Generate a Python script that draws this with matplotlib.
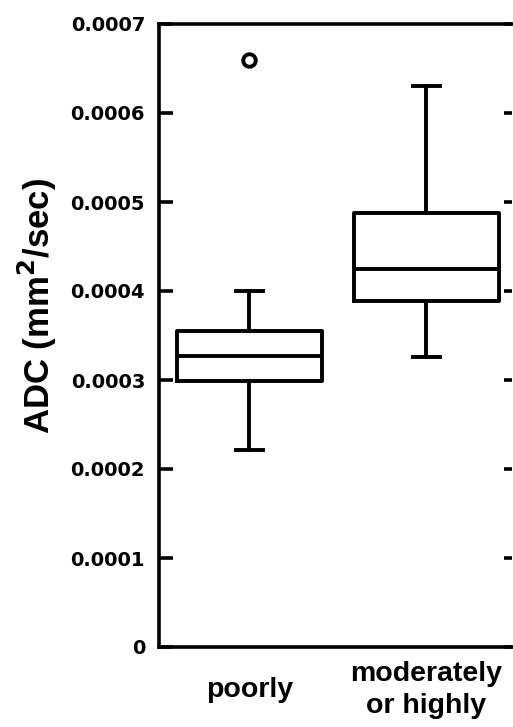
import matplotlib
matplotlib.use('Agg')
import matplotlib.pyplot as plt

# Box statistics (ADC, mm^2/sec)
groups = ['poorly', 'moderately\nor highly']
whisker_low = [2.21e-4, 3.26e-4]
quart1 = [2.99e-4, 3.89e-4]
medians = [3.27e-4, 4.25e-4]
quart3 = [3.55e-4, 4.88e-4]
whisker_high = [4.00e-4, 6.30e-4]
outliers = [[6.6e-4], []]

yticks = [0, 0.0001, 0.0002, 0.0003, 0.0004, 0.0005, 0.0006, 0.0007]
ytick_labels = ['0', '0.0001', '0.0002', '0.0003', '0.0004', '0.0005', '0.0006', '0.0007']

W, H = 513, 727
fig = plt.figure(figsize=(W / 100, H / 100), dpi=100)
ax = fig.add_axes([159 / W, (H - 647) / H, (512 - 159) / W, (647 - 24) / H])

stats = []
for i in range(len(groups)):
    stats.append({
        'whislo': whisker_low[i], 'q1': quart1[i], 'med': medians[i],
        'q3': quart3[i], 'whishi': whisker_high[i], 'fliers': outliers[i],
    })

lw = 2.8
ax.bxp(stats, positions=[1, 2], widths=0.82, capwidths=0.15,
       boxprops=dict(color='black', linewidth=lw),
       medianprops=dict(color='black', linewidth=lw),
       whiskerprops=dict(color='black', linewidth=lw),
       capprops=dict(color='black', linewidth=lw),
       flierprops=dict(marker='o', markerfacecolor='white', markeredgecolor='black',
                       markersize=9, markeredgewidth=2.8))

ax.set_xlim(0.489, 2.483)
ax.set_ylim(0, 0.0007)

for side in ['left', 'bottom', 'top']:
    ax.spines[side].set_linewidth(2.6)
ax.spines['right'].set_visible(False)

ax.set_yticks(yticks)
ax.set_yticklabels(ytick_labels, fontfamily='DejaVu Sans', fontweight='bold', fontsize=14)
ax.tick_params(axis='y', which='both', direction='in', left=True, right=True,
               length=10, width=2.6, pad=10)

ax.set_xticks([1, 2])
ax.set_xticklabels(groups, fontfamily='Liberation Sans', fontweight='bold', fontsize=20.5,
                   va='center', linespacing=1.3)
ax.tick_params(axis='x', length=0, pad=31)

# shorter ticks on the right-hand side
for t in ax.yaxis.get_major_ticks():
    t.tick2line.set_markersize(6)

fig.text(37 / W, 1 - 305.5 / H, 'ADC (mm$^\\mathbf{2}$/sec)', rotation=90,
         ha='center', va='center', fontfamily='Liberation Sans', fontweight='bold',
         fontsize=25)

fig.savefig('out.png', dpi=100)
